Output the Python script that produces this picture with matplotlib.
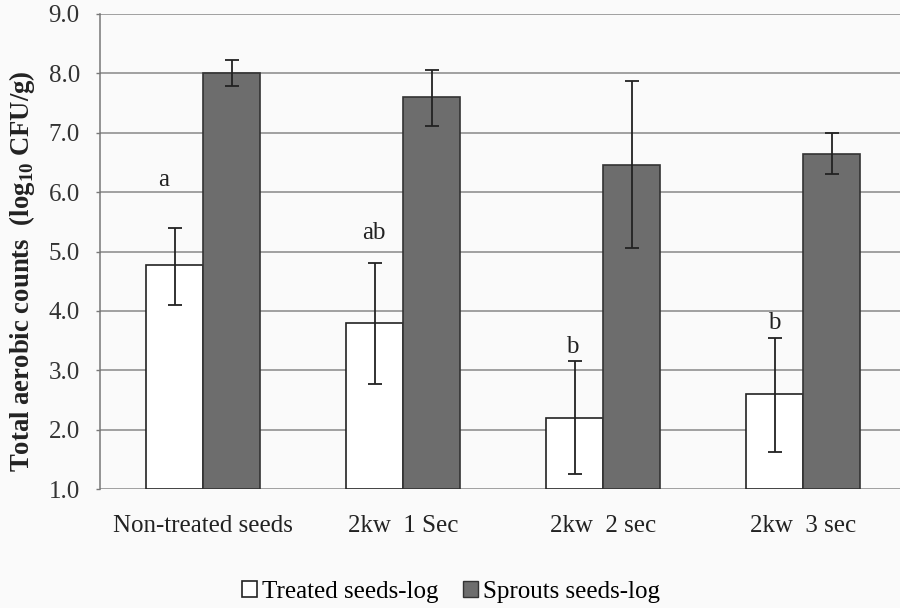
import matplotlib
matplotlib.use("Agg")
import matplotlib.pyplot as plt
import numpy as np
from matplotlib.patches import Patch

plt.rcParams['font.family'] = ['Liberation Serif', 'DejaVu Serif']
plt.rcParams['mathtext.fontset'] = 'custom'
plt.rcParams['mathtext.rm'] = 'Liberation Serif'
plt.rcParams['mathtext.bf'] = 'Liberation Serif:bold'

categories = ["Non-treated seeds", "2kw  1 Sec", "2kw  2 sec", "2kw  3 sec"]
treated = [4.77, 3.80, 2.20, 2.60]
treated_err_low = [4.10, 2.77, 1.25, 1.62]
treated_err_high = [5.40, 4.80, 3.15, 3.54]
sprouts = [8.00, 7.60, 6.46, 6.64]
sprouts_err_low = [7.78, 7.11, 5.06, 6.30]
sprouts_err_high = [8.23, 8.05, 7.88, 7.00]
letters = ["a", "ab", "b", "b"]
letter_y = [6.20, 5.31, 3.39, 3.79]

fig = plt.figure(figsize=(9, 6.08), dpi=100, facecolor="#fafafa")
ax = fig.add_axes([100/900, 1-489/608, 800/900, 475/608])
ax.set_facecolor("#fafafa")

x = np.arange(len(categories))
w = 0.285
t = np.array(treated)
s = np.array(sprouts)
terr = [t - np.array(treated_err_low), np.array(treated_err_high) - t]
serr = [s - np.array(sprouts_err_low), np.array(sprouts_err_high) - s]

ax.bar(x - w/2, t - 1.0, w, bottom=1.0, color="white", edgecolor="#222222", linewidth=1.2, zorder=3)
ax.bar(x + w/2, s - 1.0, w, bottom=1.0, color="#6d6d6d", edgecolor="#333333", linewidth=1.2, zorder=3)
ax.errorbar(x - w/2, t, yerr=terr, fmt="none", ecolor="#222222", elinewidth=1.3, capsize=5, capthick=1.3, zorder=4)
ax.errorbar(x + w/2, s, yerr=serr, fmt="none", ecolor="#222222", elinewidth=1.3, capsize=5, capthick=1.3, zorder=4)

# significance letters above the treated-seed bars
letter_dx = [-0.055, -0.005, -0.01, 0.0]
for xi, lab, ly, dx in zip(x, letters, letter_y, letter_dx):
    ax.text(xi - w/2 + dx, ly, lab, ha="center", va="center", fontsize=18, color="#222222", zorder=5)

ax.set_ylim(1.0, 9.0)
ax.set_xlim(-0.515, 3.485)
ax.set_yticks(np.arange(1.0, 9.01, 1.0))
ax.set_yticklabels([f"{v:.1f}" for v in np.arange(1.0, 9.01, 1.0)], fontsize=18, color="#333333")
ax.set_xticks(x)
ax.set_xticklabels(categories, fontsize=18, color="#222222")
ax.tick_params(axis="x", length=0, pad=19)
ax.tick_params(axis="y", length=3, width=1, color="#777777", pad=11.5)
ax.yaxis.grid(True, color="#888888", linewidth=1.1, zorder=0)
ax.set_axisbelow(True)
for side in ["top", "right", "bottom"]:
    ax.spines[side].set_visible(False)
ax.spines["left"].set_color("#777777")
ax.spines["left"].set_linewidth(1.1)

ax.set_ylabel("Total aerobic counts  (log$_{\\mathbf{10}}$ CFU/g)", fontsize=19.3, fontweight="bold", color="#222222")
ax.yaxis.set_label_coords((37 - 100) / 800, (489 - 271) / 475)

handles = [Patch(facecolor="white", edgecolor="#222222", linewidth=1.2),
           Patch(facecolor="#6d6d6d", edgecolor="#333333", linewidth=1.0)]
fig.legend(handles, ["Treated seeds-log", "Sprouts seeds-log"], loc="center", bbox_to_anchor=(451/900, 1-592/608),
           ncol=2, frameon=False, fontsize=18, handlelength=0.6, handleheight=0.6, handletextpad=0.2, columnspacing=1.0)

fig.savefig("out.png", dpi=100, facecolor=fig.get_facecolor())
